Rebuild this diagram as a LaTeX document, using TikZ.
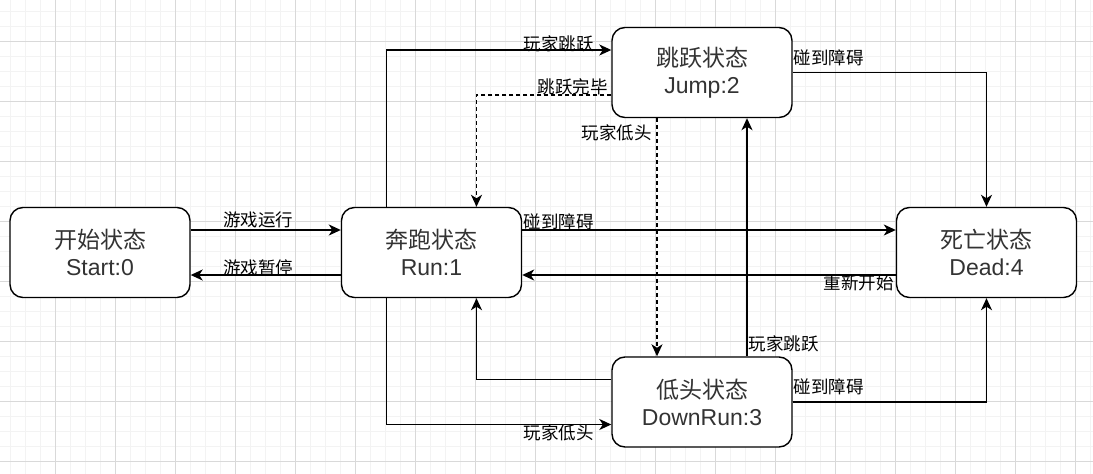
\documentclass[tikz,border=0pt]{standalone}
\usepackage{fontspec}
\setmainfont{Liberation Sans}
\newfontfamily\cjk{Noto Sans CJK SC}
\usetikzlibrary{arrows.meta,calc}
\definecolor{minorgrid}{HTML}{F3F3F3}
\definecolor{majorgrid}{HTML}{D9D9D9}
\definecolor{nodetext}{HTML}{333333}
\tikzset{
  state/.style={draw=black, line width=1.4pt, rounded corners=13pt, fill=white,
    minimum width=180pt, minimum height=90pt, align=center, text=nodetext,
    font=\fontsize{23}{27}\selectfont, inner sep=0pt},
  edge/.style={draw=black, line width=1.5pt, -{Stealth[length=12pt,width=11pt,inset=3.5pt]}},
  dashedge/.style={edge, dash pattern=on 4pt off 3pt},
  lbl/.style={font=\cjk\fontsize{17.5}{20}\selectfont, text=black, inner sep=0pt},
}
\begin{document}
\begin{tikzpicture}[x=1pt,y=-1pt]
\useasboundingbox (0,0) rectangle (1093,474);
\fill[white] (0,0) rectangle (1093,474);
% grid
\foreach \x in {10,25,...,1090} \draw[minorgrid, line width=1pt] (\x,0) -- (\x,474);
\foreach \y in {11,26,...,471} \draw[minorgrid, line width=1pt] (0,\y) -- (1093,\y);
\foreach \x in {55,115,...,1075} \draw[majorgrid, line width=1pt] (\x,0) -- (\x,474);
\foreach \y in {41,101,...,461} \draw[majorgrid, line width=1pt] (0,\y) -- (1093,\y);

% nodes
\node[state] (start) at (100,252.5) {{\cjk 开始状态}\\Start:0};
\node[state] (run)   at (431.5,252.5) {{\cjk 奔跑状态}\\Run:1};
\node[state] (jump)  at (702,72.5) {{\cjk 跳跃状态}\\Jump:2};
\node[state] (dead)  at (986.5,252.5) {{\cjk 死亡状态}\\Dead:4};
\node[state] (down)  at (702,402) {{\cjk 低头状态}\\DownRun:3};

% connectors
\coordinate (s1) at ($(start.east)+(0,-22.5)$);
\draw[edge] (s1) -- (run.west |- s1);
\coordinate (r1) at ($(run.west)+(0,22.5)$);
\draw[edge] (r1) -- (start.east |- r1);

\draw[edge] ($(run.north)+(-45,0)$) |- ($(jump.west)+(0,-22.5)$);
\draw[dashedge] ($(jump.west)+(0,22.5)$) -| ($(run.north)+(45,0)$);
\draw[dashedge] ($(jump.south)+(-45,0)$) -- ($(down.north)+(-45,0)$);
\draw[edge] ($(down.north)+(45,0)$) -- ($(jump.south)+(45,0)$);
\draw[edge] (jump.east) -| (dead.north);

\coordinate (r2) at ($(run.east)+(0,-22.5)$);
\draw[edge] (r2) -- (dead.west |- r2);
\coordinate (d1) at ($(dead.west)+(0,22.5)$);
\draw[edge] (d1) -- (run.east |- d1);

\draw[edge] ($(down.west)+(0,-22.5)$) -| ($(run.south)+(45,0)$);
\draw[edge] ($(run.south)+(-45,0)$) |- ($(down.west)+(0,22.5)$);
\draw[edge] (down.east) -| (dead.south);

% labels
\node[lbl] (l1) at (258,220) {游戏运行};
\node[lbl] (l2) at (258,268) {游戏暂停};
\node[lbl] (l3) at (558.5,43.5) {玩家跳跃};
\node[lbl] (l4) at (572.5,87) {跳跃完毕};
\node[lbl] (l5) at (616.5,132.5) {玩家低头};
\node[lbl] (l6) at (828.5,57.5) {碰到障碍};
\node[lbl] (l7) at (558.5,222) {碰到障碍};
\node[lbl] (l8) at (858.5,283) {重新开始};
\node[lbl] (l9) at (783.5,344) {玩家跳跃};
\node[lbl] (l10) at (828.5,387) {碰到障碍};
\node[lbl] (l11) at (558.5,433) {玩家低头};
\end{tikzpicture}
\end{document}
